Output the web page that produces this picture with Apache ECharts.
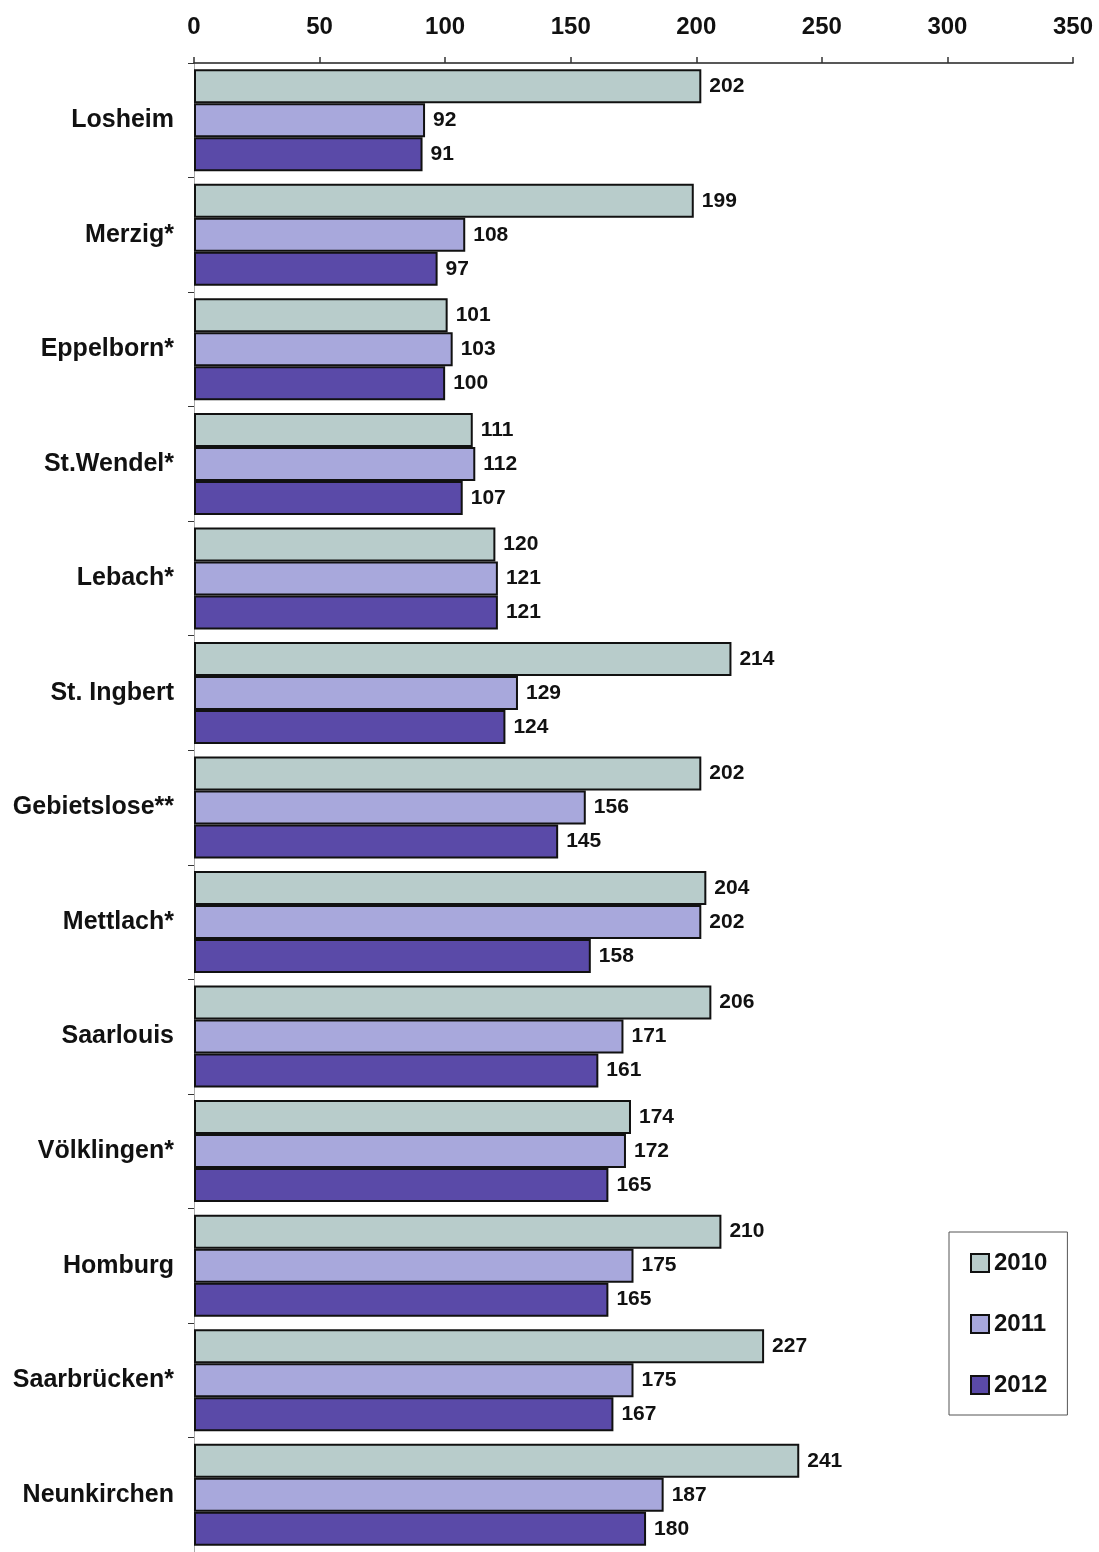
<!DOCTYPE html>
<html>
<head>
<meta charset="utf-8">
<script src="https://cdn.jsdelivr.net/npm/echarts@6/dist/echarts.min.js"></script>
<style>
html,body{margin:0;padding:0;background:#fff;}
#chart{width:1099px;height:1552px;}
</style>
</head>
<body>
<div id="chart"></div>
<script>
const categories = ["Losheim","Merzig*","Eppelborn*","St.Wendel*","Lebach*","St. Ingbert","Gebietslose**","Mettlach*","Saarlouis","Völklingen*","Homburg","Saarbrücken*","Neunkirchen"];
const seriesNames = ["2010","2011","2012"];
const values2010 = [202,199,101,111,120,214,202,204,206,174,210,227,241];
const values2011 = [92,108,103,112,121,129,156,202,171,172,175,175,187];
const values2012 = [91,97,100,107,121,124,145,158,161,165,165,167,180];
const xTicks = [0,50,100,150,200,250,300,350];

const colors = ["#b8cccb","#a8a8dc","#5a4aa8"];
const FONT = '"Liberation Sans", Arial, sans-serif';
const allValues = [values2010, values2011, values2012];

const chart = echarts.init(document.getElementById('chart'));
chart.setOption({
  animation: false,
  backgroundColor: '#ffffff',
  textStyle: { fontFamily: FONT },
  grid: { left: 194, right: 26, top: 63, height: 1495 },
  xAxis: {
    type: 'value',
    position: 'top',
    min: xTicks[0],
    max: xTicks[xTicks.length - 1],
    interval: 50,
    splitLine: { show: false },
    axisLine: { show: true, lineStyle: { color: '#222', width: 1.5 } },
    axisTick: { show: true, length: 6, lineStyle: { color: '#333', width: 1.5 } },
    axisLabel: { margin: 24, fontSize: 24, fontWeight: 'bold', color: '#111', fontFamily: FONT }
  },
  yAxis: {
    type: 'category',
    inverse: true,
    data: categories,
    axisLine: { show: true, lineStyle: { color: '#aaa', width: 1 } },
    axisTick: { show: true, length: 6, lineStyle: { color: '#333' } },
    axisLabel: { margin: 20, fontSize: 25, fontWeight: 'bold', color: '#111', fontFamily: FONT, padding: [4, 0, 0, 0] }
  },
  legend: {
    orient: 'vertical',
    left: 949,
    top: 1232,
    data: seriesNames,
    icon: 'rect',
    borderColor: '#555',
    borderWidth: 1,
    padding: [19, 20, 18, 21],
    itemWidth: 18,
    itemHeight: 18,
    itemGap: 37,
    textStyle: { fontSize: 24, fontWeight: 'bold', color: '#111', lineHeight: 24, fontFamily: FONT }
  },
  series: seriesNames.map((name, i) => ({
    name: name,
    type: 'bar',
    data: allValues[i],
    barWidth: 34,
    barGap: '0%',
    itemStyle: { color: colors[i], borderColor: '#111', borderWidth: 2 },
    label: {
      show: true,
      position: 'right',
      distance: 8,
      fontSize: 21,
      fontWeight: 'bold',
      color: '#111',
      fontFamily: FONT,
      padding: [4, 0, 0, 0]
    }
  }))
});
</script>
</body>
</html>
